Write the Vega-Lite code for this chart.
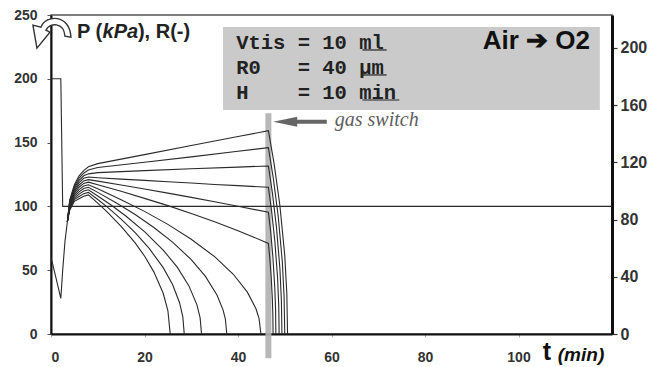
{
  "$schema": "https://vega.github.io/schema/vega-lite/v6.json",
  "width": 561,
  "height": 319,
  "autosize": {"type": "none"},
  "padding": {"left": 51, "top": 15, "right": 42, "bottom": 33},
  "background": "white",
  "config": {"view": {"stroke": "#555555", "strokeWidth": 1.5}, "font": "Liberation Sans"},
  "data": {"values": [{}]},
  "datasets": {
    "curves": [
      {"s": "P", "t": 0, "v": 200}, {"s": "P", "t": 2.1, "v": 200}, {"s": "P", "t": 2.5, "v": 100}, {"s": "P", "t": 120, "v": 100},
      {"s": "c", "t": 0, "v": 60}, {"s": "c", "t": 1, "v": 45}, {"s": "c", "t": 2.1, "v": 28}, {"s": "c", "t": 2.5, "v": 50}, {"s": "c", "t": 3, "v": 73}, {"s": "c", "t": 3.5, "v": 88},
      {"s": "c0", "t": 3.5, "v": 88}, {"s": "c0", "t": 4, "v": 97}, {"s": "c0", "t": 5, "v": 104}, {"s": "c0", "t": 6, "v": 106}, {"s": "c0", "t": 7, "v": 108}, {"s": "c0", "t": 8, "v": 109}, {"s": "c0", "t": 10, "v": 102.6}, {"s": "c0", "t": 12, "v": 95.7}, {"s": "c0", "t": 15, "v": 84.4}, {"s": "c0", "t": 18, "v": 71.4}, {"s": "c0", "t": 20, "v": 61.1}, {"s": "c0", "t": 22, "v": 48.7}, {"s": "c0", "t": 24, "v": 31.9}, {"s": "c0", "t": 25, "v": 18.4}, {"s": "c0", "t": 25.5, "v": 0},
      {"s": "c1", "t": 3.5, "v": 88}, {"s": "c1", "t": 4, "v": 97.8}, {"s": "c1", "t": 5, "v": 105.3}, {"s": "c1", "t": 6, "v": 107.8}, {"s": "c1", "t": 7, "v": 110}, {"s": "c1", "t": 8, "v": 111}, {"s": "c1", "t": 10, "v": 105.4}, {"s": "c1", "t": 12, "v": 99.6}, {"s": "c1", "t": 15, "v": 90.1}, {"s": "c1", "t": 18, "v": 79.4}, {"s": "c1", "t": 21, "v": 67.1}, {"s": "c1", "t": 24, "v": 52}, {"s": "c1", "t": 26, "v": 38.8}, {"s": "c1", "t": 27.5, "v": 24.5}, {"s": "c1", "t": 28.2, "v": 13.4}, {"s": "c1", "t": 28.5, "v": 0},
      {"s": "c2", "t": 3.5, "v": 88}, {"s": "c2", "t": 4, "v": 98.6}, {"s": "c2", "t": 5, "v": 106.6}, {"s": "c2", "t": 6, "v": 109.6}, {"s": "c2", "t": 7, "v": 112}, {"s": "c2", "t": 8, "v": 113}, {"s": "c2", "t": 10, "v": 108.2}, {"s": "c2", "t": 13, "v": 100.7}, {"s": "c2", "t": 16, "v": 92.5}, {"s": "c2", "t": 20, "v": 80.2}, {"s": "c2", "t": 24, "v": 65.8}, {"s": "c2", "t": 27, "v": 52.4}, {"s": "c2", "t": 29.5, "v": 37.7}, {"s": "c2", "t": 31.2, "v": 23}, {"s": "c2", "t": 31.9, "v": 12.6}, {"s": "c2", "t": 32.2, "v": 0},
      {"s": "c3", "t": 3.5, "v": 88}, {"s": "c3", "t": 4, "v": 99.4}, {"s": "c3", "t": 5, "v": 107.9}, {"s": "c3", "t": 6, "v": 111.4}, {"s": "c3", "t": 7, "v": 114}, {"s": "c3", "t": 8, "v": 115}, {"s": "c3", "t": 10, "v": 111}, {"s": "c3", "t": 14, "v": 102.7}, {"s": "c3", "t": 18, "v": 93.6}, {"s": "c3", "t": 22, "v": 83.5}, {"s": "c3", "t": 26, "v": 72}, {"s": "c3", "t": 30, "v": 58.3}, {"s": "c3", "t": 33, "v": 45.3}, {"s": "c3", "t": 35.5, "v": 30.6}, {"s": "c3", "t": 36.8, "v": 18.9}, {"s": "c3", "t": 37.3, "v": 11.6}, {"s": "c3", "t": 37.6, "v": 0},
      {"s": "c4", "t": 3.5, "v": 88}, {"s": "c4", "t": 4, "v": 100.2}, {"s": "c4", "t": 5, "v": 109.2}, {"s": "c4", "t": 6, "v": 113.2}, {"s": "c4", "t": 7, "v": 116}, {"s": "c4", "t": 8, "v": 117}, {"s": "c4", "t": 10, "v": 113.8}, {"s": "c4", "t": 15, "v": 105.3}, {"s": "c4", "t": 20, "v": 96.1}, {"s": "c4", "t": 25, "v": 85.9}, {"s": "c4", "t": 30, "v": 74.3}, {"s": "c4", "t": 35, "v": 60.6}, {"s": "c4", "t": 39, "v": 46.8}, {"s": "c4", "t": 42, "v": 32.8}, {"s": "c4", "t": 43.8, "v": 20.2}, {"s": "c4", "t": 44.5, "v": 12.2}, {"s": "c4", "t": 44.9, "v": 0},
      {"s": "c5", "t": 3.5, "v": 88}, {"s": "c5", "t": 4, "v": 101}, {"s": "c5", "t": 5, "v": 110.5}, {"s": "c5", "t": 6, "v": 115}, {"s": "c5", "t": 7, "v": 118}, {"s": "c5", "t": 8, "v": 119}, {"s": "c5", "t": 10, "v": 117}, {"s": "c5", "t": 15, "v": 111.8}, {"s": "c5", "t": 20, "v": 106.3}, {"s": "c5", "t": 25, "v": 100.6}, {"s": "c5", "t": 30, "v": 94.5}, {"s": "c5", "t": 35, "v": 88}, {"s": "c5", "t": 40, "v": 81}, {"s": "c5", "t": 43, "v": 76.5}, {"s": "c5", "t": 46.5, "v": 71}, {"s": "c5", "t": 46.8, "v": 59.4}, {"s": "c5", "t": 47.1, "v": 44.9}, {"s": "c5", "t": 47.35, "v": 27.5}, {"s": "c5", "t": 47.46, "v": 14.2}, {"s": "c5", "t": 47.5, "v": 0},
      {"s": "c6", "t": 3.5, "v": 88}, {"s": "c6", "t": 4, "v": 101.8}, {"s": "c6", "t": 5, "v": 111.8}, {"s": "c6", "t": 6, "v": 116.8}, {"s": "c6", "t": 7, "v": 120}, {"s": "c6", "t": 8, "v": 121}, {"s": "c6", "t": 10, "v": 119.8}, {"s": "c6", "t": 15, "v": 116.8}, {"s": "c6", "t": 20, "v": 113.6}, {"s": "c6", "t": 25, "v": 110.4}, {"s": "c6", "t": 30, "v": 107.1}, {"s": "c6", "t": 35, "v": 103.7}, {"s": "c6", "t": 40, "v": 100.1}, {"s": "c6", "t": 46.5, "v": 95.4}, {"s": "c6", "t": 47, "v": 79.8}, {"s": "c6", "t": 47.46, "v": 60.3}, {"s": "c6", "t": 47.86, "v": 36.9}, {"s": "c6", "t": 48.04, "v": 19.1}, {"s": "c6", "t": 48.1, "v": 0},
      {"s": "c7", "t": 3.5, "v": 88}, {"s": "c7", "t": 4, "v": 102.6}, {"s": "c7", "t": 5, "v": 113.1}, {"s": "c7", "t": 6, "v": 118.6}, {"s": "c7", "t": 7, "v": 122}, {"s": "c7", "t": 8, "v": 123}, {"s": "c7", "t": 10, "v": 122.5}, {"s": "c7", "t": 15, "v": 121.4}, {"s": "c7", "t": 20, "v": 120.4}, {"s": "c7", "t": 25, "v": 119.3}, {"s": "c7", "t": 30, "v": 118.3}, {"s": "c7", "t": 35, "v": 117.2}, {"s": "c7", "t": 40, "v": 116.3}, {"s": "c7", "t": 46.5, "v": 115}, {"s": "c7", "t": 47.19, "v": 96.3}, {"s": "c7", "t": 47.88, "v": 72.7}, {"s": "c7", "t": 48.46, "v": 44.5}, {"s": "c7", "t": 48.71, "v": 23}, {"s": "c7", "t": 48.8, "v": 0},
      {"s": "c8", "t": 3.5, "v": 88}, {"s": "c8", "t": 4, "v": 103.4}, {"s": "c8", "t": 5, "v": 114.4}, {"s": "c8", "t": 6, "v": 120.4}, {"s": "c8", "t": 7, "v": 124}, {"s": "c8", "t": 8, "v": 125.5}, {"s": "c8", "t": 10, "v": 126.5}, {"s": "c8", "t": 20, "v": 128}, {"s": "c8", "t": 30, "v": 129.5}, {"s": "c8", "t": 40, "v": 130.8}, {"s": "c8", "t": 46.5, "v": 131.7}, {"s": "c8", "t": 47.37, "v": 110.2}, {"s": "c8", "t": 48.24, "v": 83.2}, {"s": "c8", "t": 48.97, "v": 51}, {"s": "c8", "t": 49.28, "v": 26.3}, {"s": "c8", "t": 49.4, "v": 0},
      {"s": "c9", "t": 3.5, "v": 88}, {"s": "c9", "t": 4, "v": 104.2}, {"s": "c9", "t": 5, "v": 115.7}, {"s": "c9", "t": 6, "v": 122.2}, {"s": "c9", "t": 7, "v": 126}, {"s": "c9", "t": 8, "v": 128.5}, {"s": "c9", "t": 10, "v": 130.5}, {"s": "c9", "t": 20, "v": 134.6}, {"s": "c9", "t": 30, "v": 138.8}, {"s": "c9", "t": 40, "v": 143.2}, {"s": "c9", "t": 46.5, "v": 146}, {"s": "c9", "t": 47.55, "v": 122.2}, {"s": "c9", "t": 48.6, "v": 92.3}, {"s": "c9", "t": 49.48, "v": 56.5}, {"s": "c9", "t": 49.86, "v": 29.2}, {"s": "c9", "t": 50, "v": 0},
      {"s": "c10", "t": 3.5, "v": 88}, {"s": "c10", "t": 4, "v": 105}, {"s": "c10", "t": 5, "v": 117}, {"s": "c10", "t": 6, "v": 124}, {"s": "c10", "t": 7, "v": 128}, {"s": "c10", "t": 8, "v": 131}, {"s": "c10", "t": 10, "v": 133.5}, {"s": "c10", "t": 20, "v": 140.6}, {"s": "c10", "t": 30, "v": 147.7}, {"s": "c10", "t": 40, "v": 154.8}, {"s": "c10", "t": 46.5, "v": 159.3}, {"s": "c10", "t": 47.73, "v": 133.3}, {"s": "c10", "t": 48.96, "v": 100.7}, {"s": "c10", "t": 50, "v": 61.6}, {"s": "c10", "t": 50.44, "v": 31.9}, {"s": "c10", "t": 50.6, "v": 0}
    ]
  },
  "layer": [
    {
      "layer": [
        {
          "mark": {"type": "rect", "color": "#cacaca"},
          "encoding": {"x": {"datum": 36.8, "type": "quantitative"}, "x2": {"datum": 117.4}, "y": {"datum": 240.6, "type": "quantitative"}, "y2": {"datum": 175.5}}
        },
        {
          "mark": {"type": "rule", "color": "#b0b0b0", "strokeWidth": 6, "opacity": 0.9},
          "encoding": {"x": {"datum": 46.5, "type": "quantitative"}, "y": {"datum": 173, "type": "quantitative"}, "y2": {"datum": -19}}
        },
        {
          "data": {"name": "curves"},
          "mark": {"type": "line", "color": "#2a2a2a", "strokeWidth": 1.1, "clip": false},
          "encoding": {
            "x": {"field": "t", "type": "quantitative", "scale": {"domain": [0, 120], "nice": false},
              "axis": {"title": null, "values": [0, 20, 40, 60, 80, 100], "grid": false, "domainColor": "#111111", "domainWidth": 1.8, "tickColor": "#aaaaaa", "tickSize": 3, "labelPadding": 13, "labelFont": "Liberation Sans", "labelFontWeight": "bold", "labelFontSize": 14, "labelColor": "#333333"}},
            "y": {"field": "v", "type": "quantitative", "scale": {"domain": [0, 250], "nice": false},
              "axis": {"title": null, "values": [0, 50, 100, 150, 200, 250], "grid": false, "domainColor": "#111111", "domainWidth": 2, "tickColor": "#555555", "tickSize": 4, "labelPadding": 10, "labelFont": "Liberation Sans", "labelFontWeight": "bold", "labelFontSize": 14, "labelColor": "#333333"}},
            "detail": {"field": "s", "type": "nominal"}
          }
        },
        {
          "mark": {"type": "rule", "color": "#666666", "strokeWidth": 4},
          "encoding": {"x": {"datum": 52, "type": "quantitative"}, "x2": {"datum": 59}, "y": {"datum": 166.4, "type": "quantitative"}}
        },
        {
          "mark": {"type": "point", "shape": "M -1 0 L 1 -0.42 L 1 0.42 Z", "size": 576, "filled": true, "color": "#666666", "opacity": 1},
          "encoding": {"x": {"datum": 50.1, "type": "quantitative"}, "y": {"datum": 166.4, "type": "quantitative"}}
        },
        {
          "mark": {"type": "point", "shape": "M 0.65 0.1 C 0.6 -0.6 -0.1 -0.6 -0.3 -0.2 L -0.1 -0.1 L -0.75 0.7 L -0.95 -0.45 L -0.55 -0.35 C -0.3 -1.0 0.9 -1.0 0.95 0.15 Z", "size": 1600, "filled": true, "fill": "white", "stroke": "#333333", "strokeWidth": 1.4, "opacity": 1, "clip": false},
          "encoding": {"x": {"datum": 0.2, "type": "quantitative"}, "y": {"datum": 235, "type": "quantitative"}}
        },
        {
          "mark": {"type": "text", "text": "gas switch", "font": "Liberation Serif", "fontStyle": "italic", "fontSize": 20, "color": "#5e5e5e", "align": "left", "baseline": "middle"},
          "encoding": {"x": {"datum": 60.7, "type": "quantitative"}, "y": {"datum": 167.5, "type": "quantitative"}}
        },
        {
          "mark": {"type": "text", "text": "P (", "font": "Liberation Sans", "fontWeight": "bold", "fontSize": 20, "color": "#222222", "align": "left", "baseline": "middle"},
          "encoding": {"x": {"datum": 5.56, "type": "quantitative"}, "y": {"datum": 237, "type": "quantitative"}}
        },
        {
          "mark": {"type": "text", "text": "kPa", "font": "Liberation Sans", "fontWeight": "bold", "fontStyle": "italic", "fontSize": 20, "color": "#222222", "align": "left", "baseline": "middle"},
          "encoding": {"x": {"datum": 11.04, "type": "quantitative"}, "y": {"datum": 237, "type": "quantitative"}}
        },
        {
          "mark": {"type": "text", "text": "), R(-)", "font": "Liberation Sans", "fontWeight": "bold", "fontSize": 20, "color": "#222222", "align": "left", "baseline": "middle"},
          "encoding": {"x": {"datum": 18.6, "type": "quantitative"}, "y": {"datum": 237, "type": "quantitative"}}
        },
        {
          "mark": {"type": "text", "text": "Vtis = 10 ml", "font": "Liberation Mono", "fontWeight": "bold", "fontSize": 20.5, "color": "#222222", "align": "left", "baseline": "middle"},
          "encoding": {"x": {"datum": 39.6, "type": "quantitative"}, "y": {"datum": 228.1, "type": "quantitative"}}
        },
        {
          "mark": {"type": "text", "text": "R0\u00a0\u00a0\u00a0= 40 \u00b5m", "font": "Liberation Mono", "fontWeight": "bold", "fontSize": 20.5, "color": "#222222", "align": "left", "baseline": "middle"},
          "encoding": {"x": {"datum": 39.6, "type": "quantitative"}, "y": {"datum": 208.1, "type": "quantitative"}}
        },
        {
          "mark": {"type": "text", "text": "H\u00a0\u00a0\u00a0\u00a0= 10 min", "font": "Liberation Mono", "fontWeight": "bold", "fontSize": 20.5, "color": "#222222", "align": "left", "baseline": "middle"},
          "encoding": {"x": {"datum": 39.6, "type": "quantitative"}, "y": {"datum": 188.9, "type": "quantitative"}}
        },
        {
          "mark": {"type": "rule", "color": "#222222", "strokeWidth": 1.2},
          "encoding": {"x": {"datum": 66.6, "type": "quantitative"}, "x2": {"datum": 71.8}, "y": {"datum": 222.6, "type": "quantitative"}}
        },
        {
          "mark": {"type": "rule", "color": "#222222", "strokeWidth": 1.2},
          "encoding": {"x": {"datum": 66.6, "type": "quantitative"}, "x2": {"datum": 71.8}, "y": {"datum": 203, "type": "quantitative"}}
        },
        {
          "mark": {"type": "rule", "color": "#222222", "strokeWidth": 1.2},
          "encoding": {"x": {"datum": 66.6, "type": "quantitative"}, "x2": {"datum": 74.5}, "y": {"datum": 183.4, "type": "quantitative"}}
        },
        {
          "mark": {"type": "text", "text": "Air \u2794 O2", "font": "Liberation Sans", "fontWeight": "bold", "fontSize": 26, "color": "#111111", "align": "right", "baseline": "middle"},
          "encoding": {"x": {"datum": 115.3, "type": "quantitative"}, "y": {"datum": 229.6, "type": "quantitative"}}
        },
        {
          "mark": {"type": "text", "text": "t", "font": "Liberation Sans", "fontWeight": "bold", "fontSize": 25, "color": "#111111", "align": "center", "baseline": "middle"},
          "encoding": {"x": {"datum": 106.1, "type": "quantitative"}, "y": {"datum": -14, "type": "quantitative"}}
        },
        {
          "mark": {"type": "text", "text": "(min)", "font": "Liberation Sans", "fontWeight": "bold", "fontStyle": "italic", "fontSize": 19, "color": "#111111", "align": "left", "baseline": "middle"},
          "encoding": {"x": {"datum": 108.4, "type": "quantitative"}, "y": {"datum": -16.5, "type": "quantitative"}}
        }
      ]
    },
    {
      "mark": {"type": "point", "opacity": 0},
      "encoding": {
        "x": {"datum": 0, "type": "quantitative"},
        "y": {"datum": 0, "type": "quantitative", "scale": {"domain": [0, 223], "nice": false},
          "axis": {"orient": "right", "title": null, "values": [0, 40, 80, 120, 160, 200], "grid": false, "domainColor": "#111111", "domainWidth": 3, "tickColor": "#333333", "tickSize": 5, "tickWidth": 1.2, "labelPadding": 3, "labelFont": "Liberation Sans", "labelFontWeight": "bold", "labelFontSize": 16, "labelColor": "#333333"}}
      }
    }
  ],
  "resolve": {"scale": {"y": "independent"}}
}
